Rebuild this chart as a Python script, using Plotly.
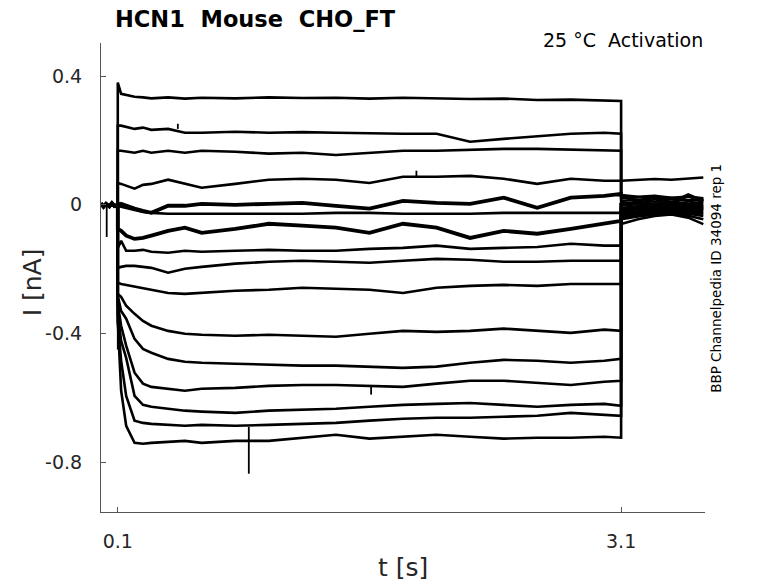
import plotly.graph_objects as go

# holding segment before the step (s, nA)
pre_t = [0.0, 0.015, 0.03, 0.05, 0.065, 0.08, 0.1]
pre_i = [0.004, -0.006, 0.003, -0.005, 0.005, -0.004, 0.0]

# voltage step, 0.1 s to 3.1 s
step_t = [0.1, 0.12, 0.15, 0.2, 0.25, 0.3, 0.4, 0.5, 0.6, 0.8, 1.0, 1.2,
          1.4, 1.6, 1.8, 2.0, 2.2, 2.4, 2.6, 2.8, 3.0, 3.1]

step_i = [
    [0.38, 0.345, 0.342, 0.336, 0.334, 0.331, 0.334, 0.330, 0.333, 0.331, 0.334, 0.332,
     0.333, 0.330, 0.333, 0.331, 0.329, 0.330, 0.326, 0.327, 0.323, 0.323],
    [0.246, 0.246, 0.243, 0.236, 0.240, 0.233, 0.236, 0.224, 0.224, 0.227, 0.224, 0.226,
     0.224, 0.222, 0.221, 0.221, 0.196, 0.205, 0.214, 0.221, 0.224, 0.221],
    [0.168, 0.168, 0.165, 0.162, 0.168, 0.162, 0.168, 0.162, 0.168, 0.165, 0.159, 0.162,
     0.155, 0.162, 0.168, 0.168, 0.171, 0.174, 0.174, 0.171, 0.168, 0.168],
    [0.068, 0.065, 0.059, 0.050, 0.062, 0.065, 0.078, 0.065, 0.053, 0.065, 0.078, 0.081,
     0.078, 0.068, 0.087, 0.087, 0.090, 0.081, 0.065, 0.081, 0.075, 0.075],
    [-0.003, 0.003, -0.003, -0.012, -0.019, -0.025, -0.003, -0.003, 0.003, 0.0, 0.003, 0.006,
     -0.003, -0.012, 0.012, 0.006, 0.003, 0.022, -0.009, 0.022, 0.028, 0.034],
    [-0.003, -0.006, -0.009, -0.016, -0.022, -0.025, -0.028, -0.028, -0.028, -0.028, -0.028, -0.028,
     -0.025, -0.025, -0.028, -0.028, -0.028, -0.025, -0.025, -0.025, -0.025, -0.025],
    [-0.075, -0.081, -0.096, -0.106, -0.103, -0.096, -0.081, -0.071, -0.087, -0.075, -0.059, -0.065,
     -0.071, -0.087, -0.059, -0.071, -0.103, -0.081, -0.090, -0.075, -0.059, -0.050],
    [-0.134, -0.112, -0.143, -0.143, -0.140, -0.146, -0.149, -0.143, -0.146, -0.143, -0.140, -0.143,
     -0.143, -0.137, -0.134, -0.127, -0.137, -0.134, -0.131, -0.121, -0.127, -0.127],
    [-0.196, -0.193, -0.190, -0.190, -0.193, -0.196, -0.211, -0.199, -0.193, -0.183, -0.177, -0.174,
     -0.177, -0.180, -0.174, -0.168, -0.171, -0.177, -0.177, -0.174, -0.174, -0.174],
    [-0.242, -0.246, -0.249, -0.252, -0.258, -0.264, -0.274, -0.277, -0.274, -0.267, -0.264, -0.258,
     -0.261, -0.264, -0.274, -0.258, -0.252, -0.249, -0.252, -0.246, -0.246, -0.246],
    [-0.277, -0.286, -0.314, -0.339, -0.361, -0.376, -0.392, -0.401, -0.404, -0.407, -0.404, -0.407,
     -0.410, -0.401, -0.392, -0.395, -0.392, -0.385, -0.392, -0.398, -0.388, -0.392],
    [-0.283, -0.330, -0.354, -0.417, -0.448, -0.460, -0.479, -0.488, -0.491, -0.494, -0.497, -0.500,
     -0.500, -0.503, -0.507, -0.503, -0.491, -0.482, -0.485, -0.491, -0.485, -0.479],
    [-0.308, -0.376, -0.438, -0.522, -0.556, -0.566, -0.572, -0.578, -0.572, -0.569, -0.563, -0.560,
     -0.560, -0.563, -0.566, -0.556, -0.547, -0.547, -0.553, -0.560, -0.550, -0.547],
    [-0.339, -0.423, -0.476, -0.594, -0.622, -0.628, -0.634, -0.640, -0.643, -0.647, -0.640, -0.637,
     -0.634, -0.628, -0.622, -0.619, -0.616, -0.622, -0.628, -0.622, -0.619, -0.625],
    [-0.361, -0.485, -0.594, -0.671, -0.678, -0.681, -0.684, -0.687, -0.684, -0.687, -0.684, -0.681,
     -0.678, -0.671, -0.665, -0.662, -0.662, -0.659, -0.656, -0.647, -0.653, -0.656],
    [-0.361, -0.578, -0.687, -0.740, -0.743, -0.740, -0.737, -0.734, -0.740, -0.734, -0.734, -0.724,
     -0.715, -0.727, -0.721, -0.715, -0.721, -0.727, -0.724, -0.724, -0.721, -0.724],
]

# tail after the step
tail_t = [3.1, 3.2, 3.3, 3.4, 3.5, 3.59]
tail_i = [
    [0.030, 0.025, 0.028, 0.022, 0.026, 0.020],
    [0.020, 0.024, 0.018, 0.022, 0.015, 0.020],
    [0.012, 0.016, 0.010, 0.018, 0.012, 0.015],
    [0.075, 0.078, 0.080, 0.078, 0.082, 0.085],
    [0.030, 0.010, 0.025, 0.005, 0.030, 0.010],
    [0.005, 0.008, 0.003, 0.010, 0.004, 0.008],
    [0.000, 0.004, -0.004, 0.005, 0.0, 0.002],
    [-0.010, -0.005, -0.008, -0.002, -0.006, -0.004],
    [-0.015, -0.010, -0.012, -0.006, -0.010, -0.008],
    [-0.020, -0.014, -0.016, -0.010, -0.014, -0.012],
    [-0.025, -0.020, -0.018, -0.014, -0.016, -0.015],
    [-0.030, -0.025, -0.020, -0.018, -0.020, -0.022],
    [-0.035, -0.028, -0.024, -0.020, -0.024, -0.028],
    [-0.040, -0.032, -0.026, -0.022, -0.028, -0.035],
    [-0.045, -0.036, -0.030, -0.026, -0.034, -0.045],
    [-0.060, -0.045, -0.035, -0.030, -0.040, -0.060],
]

# short artefact spikes: time, start level, tip level
spike_t = [0.034, 0.1, 0.458, 0.881, 1.61, 1.88]
spike_base = [0.0, -0.36, 0.236, -0.69, -0.563, 0.085]
spike_tip = [-0.10, -0.45, 0.252, -0.836, -0.59, 0.106]

noisy = [4, 6]

fig = go.Figure()
for k in range(len(step_i)):
    fig.add_trace(go.Scatter(
        x=pre_t + step_t + tail_t,
        y=pre_i + step_i[k] + tail_i[k],
        mode='lines',
        line=dict(color='black', width=3.8 if k in noisy else 2.6),
        showlegend=False, hoverinfo='skip'))

sx, sy = [], []
for t, b, p in zip(spike_t, spike_base, spike_tip):
    sx += [t, t, None]
    sy += [b, p, None]
fig.add_trace(go.Scatter(x=sx, y=sy, mode='lines',
                         line=dict(color='black', width=1.8),
                         showlegend=False, hoverinfo='skip'))

# page body has an 8px margin, so the figure is shrunk by that much
font = 'DejaVu Sans'
axcol = '#555555'
nb = '\u00a0'
fig.update_layout(
    width=770, height=575,
    margin=dict(l=93, r=73, t=35, b=71),
    plot_bgcolor='white', paper_bgcolor='white',
    font=dict(family=font, color='#262626'),
    title=dict(text=f'<b>HCN1{nb}{nb}Mouse{nb}{nb}CHO_FT</b>', x=107 / 770, xanchor='left',
               y=1 - 11 / 575, yanchor='middle',
               font=dict(size=22.5, family=font, color='black')),
    xaxis=dict(range=[0, 3.6], tickvals=[0.1, 3.1], ticktext=['0.1', '3.1'],
               showgrid=False, zeroline=False, showline=True, linecolor=axcol,
               linewidth=1, ticks='inside', ticklen=5, tickcolor=axcol,
               tickfont=dict(size=19, color='#262626'), ticklabelstandoff=12),
    yaxis=dict(range=[-0.955, 0.503], tickvals=[-0.8, -0.4, 0, 0.4],
               ticktext=['-0.8', '-0.4', '0', '0.4'],
               showgrid=False, zeroline=False, showline=True, linecolor=axcol,
               linewidth=1, ticks='inside', ticklen=5, tickcolor=axcol,
               tickfont=dict(size=19, color='#262626'), ticklabelstandoff=14),
    annotations=[
        dict(text=f'25 °C{nb}{nb}Activation', xref='paper', yref='paper', x=1.0, y=1.006,
             xanchor='right', yanchor='middle', showarrow=False,
             font=dict(size=19, color='black')),
        dict(text='BBP Channelpedia ID 34094 rep 1', xref='paper', yref='paper',
             x=1.018, y=0.499, textangle=-90, xanchor='center', yanchor='middle',
             showarrow=False, font=dict(size=13.5, color='black')),
        dict(text='I [nA]', xref='paper', yref='paper', x=-0.114, y=0.49,
             textangle=-90, xanchor='center', yanchor='middle', showarrow=False,
             font=dict(size=25, color='#262626')),
        dict(text='t [s]', xref='paper', yref='paper', x=0.5, y=-0.119,
             xanchor='center', yanchor='middle', showarrow=False,
             font=dict(size=25, color='#262626')),
    ],
)

fig.write_html('out.html')
